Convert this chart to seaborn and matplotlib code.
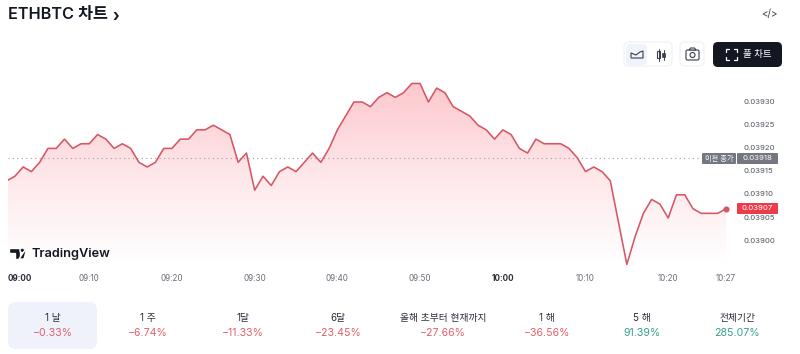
import numpy as np
import pandas as pd
import matplotlib
matplotlib.use('Agg')
import matplotlib.pyplot as plt
import seaborn as sns
from matplotlib.colors import LinearSegmentedColormap
from matplotlib.patches import FancyBboxPatch, Polygon, Circle, Rectangle
from matplotlib.transforms import ScaledTranslation

# ETHBTC price, one value per minute from 09:00 to 10:27
prices = [
    0.03913, 0.03914, 0.03916, 0.03915, 0.03917, 0.03920, 0.03920, 0.03922, 0.03920, 0.03921,
    0.03921, 0.03923, 0.03922, 0.03920, 0.03921, 0.03920, 0.03917, 0.03916, 0.03917, 0.03920,
    0.03920, 0.03922, 0.03922, 0.03924, 0.03924, 0.03925, 0.03924, 0.03923, 0.03917, 0.03919,
    0.03911, 0.03914, 0.03912, 0.03915, 0.03916, 0.03915, 0.03917, 0.03919, 0.03917, 0.03920,
    0.03924, 0.03927, 0.03930, 0.03930, 0.03929, 0.03931, 0.03932, 0.03931, 0.03932, 0.03934,
    0.03934, 0.03930, 0.03933, 0.03932, 0.03929, 0.03928, 0.03927, 0.03925, 0.03924, 0.03922,
    0.03924, 0.03923, 0.03920, 0.03919, 0.03922, 0.03921, 0.03921, 0.03921, 0.03920, 0.03918,
    0.03915, 0.03916, 0.03915, 0.03913, 0.03904, 0.03895, 0.03901, 0.03906, 0.03909, 0.03908,
    0.03905, 0.03910, 0.03910, 0.03907, 0.03906, 0.03906, 0.03906, 0.03907,
]
prev_close = 0.03918
y_ticks = [0.03900, 0.03905, 0.03910, 0.03915, 0.03920, 0.03925, 0.03930]
x_ticks = [0, 10, 20, 30, 40, 50, 60, 70, 80, 87]
x_labels = ['09:00', '09:10', '09:20', '09:30', '09:40', '09:50', '10:00', '10:10', '10:20', '10:27']
bold_labels = ['09:00', '10:00']

periods = ['1 날', '1 주', '1달', '6달', '올해 초부터 현재까지', '1 해', '5 해', '전체기간']
changes = [-0.33, -6.74, -11.33, -23.45, -27.66, -36.56, 91.39, 285.07]

RED = '#d65665'
PCT_RED = '#e0606e'
GREEN = '#35a18e'
W, H = 800, 354

sns.set_theme(style='white')
plt.rcParams['font.family'] = ['Inter', 'Noto Sans CJK KR', 'DejaVu Sans']

df = pd.DataFrame({'minute': np.arange(len(prices)), 'price': prices})

fig = plt.figure(figsize=(W / 100, H / 100), dpi=100, facecolor='white')

# chart pane, sized in pixels of the 800x354 picture
left, right, top, bottom = 8, 740, 70, 270
ax = fig.add_axes([left / W, 1 - bottom / H, (right - left) / W, (bottom - top) / H])
ax.set_facecolor('none')
px_per_min = 8.27
px_per_unit = 4.64 / 0.00001
x_min = 0.17  # the first minute is cut off slightly by the pane edge
x_lim = (x_min, x_min + (right - left) / px_per_min)
y_lim = (0.03930 - (bottom - 102) / px_per_unit, 0.03930 + (102 - top) / px_per_unit)

# gradient under the line
area = ax.fill_between(df['minute'], df['price'], y_lim[0], color='none')
cmap = LinearSegmentedColormap.from_list('fade', ['#ffffff', '#fee7e9', '#fcc8cd'])
im = ax.imshow(np.linspace(1, 0, 256).reshape(-1, 1), cmap=cmap, aspect='auto',
               extent=[0, len(prices) - 1, min(prices), max(prices)], zorder=1)
im.set_clip_path(area.get_paths()[0], transform=ax.transData)
ax.set_xlim(*x_lim)
ax.set_ylim(*y_lim)

ax.plot([x_min, x_min + (702 - left) / px_per_min], [prev_close, prev_close], color='#9a9ea8',
        lw=0.8, ls=(0, (1, 3)), zorder=2)
sns.lineplot(data=df, x='minute', y='price', ax=ax, color=RED, lw=1.15, zorder=3)
ax.plot(df['minute'].iloc[-1], df['price'].iloc[-1], 'o', color=RED, ms=3.4, zorder=4)

sns.despine(ax=ax, left=True, bottom=True, right=True, top=True)
ax.set_xlabel('')
ax.set_ylabel('')
ax.yaxis.tick_right()
ax.set_yticks(y_ticks)
ax.set_yticklabels([f'{v:.5f}' for v in y_ticks], fontsize=5.6, color='#50535e')
ax.set_xticks([max(t, x_min) for t in x_ticks])
ax.set_xticklabels(x_labels, fontsize=5.8, color='#6a6d78')
ax.tick_params(axis='y', length=0, pad=2.5)
ax.tick_params(axis='x', length=0, pad=2.6)
for t in ax.get_yticklabels():
    t.set_transform(t.get_transform() + ScaledTranslation(0, 1 / 100, fig.dpi_scale_trans))
for t in ax.get_xticklabels():
    if t.get_text() in bold_labels:
        t.set_fontweight('bold')
        t.set_color('#2a2e39')
    if t.get_text() == '09:00':
        t.set_ha('left')

# everything around the chart sits on an overlay in pixel coordinates
ov = fig.add_axes([0, 0, 1, 1], zorder=5)
ov.set_xlim(0, W)
ov.set_ylim(H, 0)
ov.axis('off')


def box(x0, y0, x1, y1, r, fc, ec='none', lw=0.8):
    ov.add_patch(FancyBboxPatch((x0 + r, y0 + r), x1 - x0 - 2 * r, y1 - y0 - 2 * r,
                                boxstyle=f'round,pad={r}', fc=fc, ec=ec, lw=lw))


# title
ov.text(8, 15, 'ETHBTC 차트', fontsize=11.7, fontweight='semibold', color='#131722', va='center')
ov.text(112, 16, '›', fontsize=11, fontweight='bold', color='#131722', va='center')
ov.text(769.5, 13.5, '</>', fontsize=7, color='#3a3e4a', va='center', ha='center')

# toolbar
box(624, 42, 672, 66, 5, 'white', '#eef0f5')
box(626, 44, 647, 65, 4, '#f0f3fa')
ov.plot([631, 631, 636, 640, 643, 643, 631], [57, 53, 55, 52, 51, 58, 58], color='#3a3e4a', lw=0.8)
ov.plot([658.5, 658.5], [49, 61], color='#3a3e4a', lw=0.7)
ov.add_patch(Rectangle((657, 51), 3, 7, fc='white', ec='#3a3e4a', lw=0.8))
ov.plot([663.5, 663.5], [50, 60], color='#3a3e4a', lw=0.7)
ov.add_patch(Rectangle((662.2, 53), 2.6, 4, fc='#3a3e4a', ec='#3a3e4a', lw=0.5))
box(680, 42, 704, 66, 5, 'white', '#eef0f5')
box(686, 50, 699, 60, 1.5, 'white', '#3a3e4a')
ov.add_patch(Polygon([[689, 50], [690.5, 48], [694.5, 48], [696, 50]], fc='white', ec='#3a3e4a', lw=0.8))
ov.add_patch(Circle((692.5, 55), 2.5, fc='white', ec='#3a3e4a', lw=0.8))
box(713, 42, 782, 67, 5, '#131722')
for sx, sy in [(726, 49), (737, 49), (726, 60), (737, 60)]:
    dx = 3 if sx < 730 else -3
    dy = 3 if sy < 55 else -3
    ov.plot([sx, sx, sx + dx], [sy + dy, sy, sy], color='white', lw=0.9)
ov.text(757.5, 54.5, '풀 차트', fontsize=6.8, color='white', ha='center', va='center')

# price tags
box(702, 153, 736, 164, 1, '#747782')
box(737, 153, 778, 164, 1, '#747782')
ov.text(719, 158.5, '이전 종가', fontsize=5.2, color='white', ha='center', va='center')
ov.text(757.5, 158.5, f'{prev_close:.5f}', fontsize=5.6, color='white', ha='center', va='center')
box(737, 203, 778, 214, 1, '#ec3b4a')
ov.text(757.5, 208.5, f'{prices[-1]:.5f}', fontsize=5.6, color='white', ha='center', va='center')

# TradingView logo
ov.add_patch(Polygon([[9, 248], [20, 248], [20, 259], [14.5, 259], [14.5, 253], [9, 253]], fc='#131722'))
ov.add_patch(Circle((22.3, 250.3), 2.3, fc='#131722'))
ov.add_patch(Polygon([[23, 253], [27, 248], [24, 259], [19, 259]], fc='#131722'))
ov.text(32, 253.5, 'TradingView', fontsize=9.2, fontweight='semibold', color='#131722', va='center')

# period performance row
box(8, 302, 97, 349, 8, '#eff2fb')
centers = [53, 148, 243, 338, 443, 547, 642, 737]
for cx, period, chg in zip(centers, periods, changes):
    ov.text(cx, 318, period, fontsize=7, color='#2a2e39', ha='center', va='center')
    label = f'{chg:.2f}%'.replace('-', '\u2212')
    ov.text(cx, 333, label, fontsize=7.6, color=PCT_RED if chg < 0 else GREEN, ha='center', va='center')

fig.savefig('out.png', dpi=100)
